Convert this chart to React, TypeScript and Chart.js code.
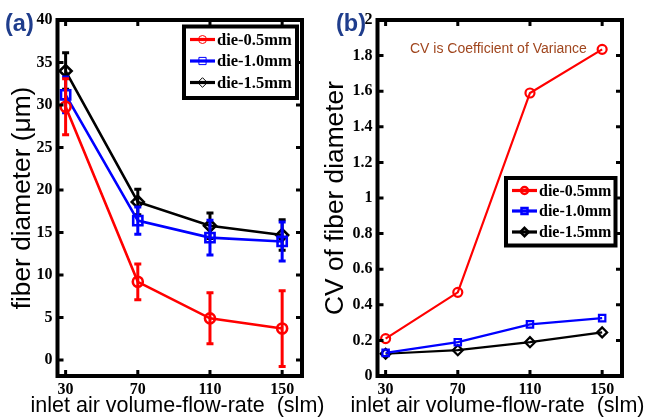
import { useEffect, useRef } from 'react';
import { Chart, registerables } from 'chart.js';

Chart.register(...registerables);

// Inlet air volume-flow-rate (slm)
const flowRates = [30, 70, 110, 150];
const dieLabels = ['die-0.5mm', 'die-1.0mm', 'die-1.5mm'];
const dieColors = ['#ff0000', '#0000ff', '#000000'];

// Mean fiber diameter (µm)
const diameter05 = [29.8, 9.2, 4.9, 3.7];
const diameter10 = [31.2, 16.4, 14.4, 13.95];
const diameter15 = [34.0, 18.6, 15.8, 14.7];

// Standard deviation of fiber diameter (µm)
const diameterSd05 = [3.3, 2.1, 3.0, 4.45];
const diameterSd10 = [2.1, 1.6, 2.05, 2.3];
const diameterSd15 = [2.15, 1.5, 1.5, 1.8];

// Coefficient of variance of fiber diameter
const cv05 = [0.21, 0.47, 1.59, 1.835];
const cv10 = [0.13, 0.19, 0.29, 0.325];
const cv15 = [0.125, 0.145, 0.19, 0.245];

// Axis ticks
const xTicks = [30, 70, 110, 150];
const diameterTicks = [0, 5, 10, 15, 20, 25, 30, 35, 40];
const cvTicks = [0, 0.2, 0.4, 0.6, 0.8, 1, 1.2, 1.4, 1.6, 1.8, 2];

const X_TITLE = 'inlet air volume-flow-rate  (slm)';

const H = 418;
const LEFT_W = 330;
const RIGHT_W = 327;
const SERIF = '"Liberation Serif", "Times New Roman", serif';
const SANS = '"Liberation Sans", Arial, sans-serif';

type Marker = 'circle' | 'rect' | 'rectRot';
const markers: Marker[] = ['circle', 'rect', 'rectRot'];

function drawMarker(ctx: CanvasRenderingContext2D, style: Marker, x: number, y: number, r: number) {
  ctx.beginPath();
  if (style === 'circle') {
    ctx.arc(x, y, r, 0, Math.PI * 2);
  } else if (style === 'rect') {
    ctx.rect(x - r, y - r, 2 * r, 2 * r);
  } else {
    ctx.moveTo(x, y - r);
    ctx.lineTo(x + r, y);
    ctx.lineTo(x, y + r);
    ctx.lineTo(x - r, y);
    ctx.closePath();
  }
  ctx.stroke();
}

const errorBarPlugin = (errs: number[][]) => ({
  id: 'errorBars',
  afterDatasetDraw(chart: any, args: any) {
    const e = errs[args.index];
    if (!e) return;
    const { ctx } = chart;
    const xs = chart.scales.x;
    const ys = chart.scales.y;
    const ds = chart.data.datasets[args.index];
    ctx.save();
    ctx.strokeStyle = ds.borderColor;
    ctx.lineWidth = 3;
    ds.data.forEach((p: { x: number; y: number }, i: number) => {
      const px = xs.getPixelForValue(p.x);
      const top = ys.getPixelForValue(p.y + e[i]);
      const bot = ys.getPixelForValue(p.y - e[i]);
      ctx.beginPath();
      ctx.moveTo(px, top);
      ctx.lineTo(px, bot);
      ctx.moveTo(px - 3.5, top);
      ctx.lineTo(px + 3.5, top);
      ctx.moveTo(px - 3.5, bot);
      ctx.lineTo(px + 3.5, bot);
      ctx.stroke();
    });
    ctx.restore();
  },
});

interface Decor {
  panel: string;
  panelX: number;
  legendBox: [number, number, number, number];
  legendRows: number[];
  legendMarkerR: number[];
  legendMarkerW: number;
  legendFont: number;
  note?: { text: string; x: number; y: number };
}

const decorPlugin = (d: Decor) => ({
  id: 'decor',
  afterDraw(chart: any) {
    const { ctx, chartArea: a, scales } = chart;
    ctx.save();
    // axes box
    ctx.strokeStyle = '#000';
    ctx.lineWidth = 4;
    ctx.strokeRect(a.left, a.top, a.right - a.left, a.bottom - a.top);
    // inward tick marks on all four sides
    ctx.lineWidth = 3;
    ctx.beginPath();
    scales.y.ticks.forEach((t: any) => {
      const y = scales.y.getPixelForValue(t.value);
      ctx.moveTo(a.left, y);
      ctx.lineTo(a.left + 6, y);
      ctx.moveTo(a.right - 6, y);
      ctx.lineTo(a.right, y);
    });
    scales.x.ticks.forEach((t: any) => {
      const x = scales.x.getPixelForValue(t.value);
      ctx.moveTo(x, a.bottom);
      ctx.lineTo(x, a.bottom - 6);
      ctx.moveTo(x, a.top);
      ctx.lineTo(x, a.top + 6);
    });
    ctx.stroke();

    // x-axis title, allowed to run wider than the plot area
    ctx.fillStyle = '#000';
    ctx.font = `21.5px ${SANS}`;
    ctx.textAlign = 'center';
    ctx.textBaseline = 'middle';
    ctx.fillText(X_TITLE, 177.5, 406.5);

    // panel letter
    ctx.textAlign = 'left';
    ctx.fillStyle = '#1f3d8c';
    ctx.font = `bold 23.5px ${SANS}`;
    ctx.fillText(d.panel, d.panelX, 25);

    if (d.note) {
      ctx.fillStyle = '#a0461e';
      ctx.font = `14px ${SANS}`;
      ctx.fillText(d.note.text, d.note.x, d.note.y);
    }

    // legend
    const [lx0, ly0, lx1, ly1] = d.legendBox;
    ctx.fillStyle = '#fff';
    ctx.fillRect(lx0, ly0, lx1 - lx0, ly1 - ly0);
    ctx.lineWidth = 4;
    ctx.strokeStyle = '#000';
    ctx.strokeRect(lx0, ly0, lx1 - lx0, ly1 - ly0);
    ctx.font = `bold ${d.legendFont}px ${SERIF}`;
    d.legendRows.forEach((ry, i) => {
      ctx.strokeStyle = dieColors[i];
      ctx.lineWidth = 3.2;
      ctx.beginPath();
      ctx.moveTo(lx0 + 6, ry);
      ctx.lineTo(lx0 + 31, ry);
      ctx.stroke();
      ctx.lineWidth = d.legendMarkerW;
      drawMarker(ctx, markers[i], lx0 + 18.5, ry, d.legendMarkerR[i]);
      ctx.fillStyle = '#000';
      ctx.fillText(dieLabels[i], lx0 + 33, ry + 1);
    });
    ctx.restore();
  },
});

function buildChart(
  canvas: HTMLCanvasElement,
  width: number,
  series: number[][],
  yMin: number,
  yMax: number,
  yTicks: number[],
  yTitle: string,
  yTitlePad: number,
  lineW: number,
  radii: number[],
  plugins: any[],
  fmt: (v: number) => string,
) {
  return new Chart(canvas, {
    type: 'line',
    data: {
      datasets: series.map((vals, i) => ({
        label: dieLabels[i],
        data: flowRates.map((x, j) => ({ x, y: vals[j] })),
        borderColor: dieColors[i],
        backgroundColor: 'rgba(0,0,0,0)',
        borderWidth: lineW,
        pointStyle: markers[i],
        pointRadius: radii[i],
        pointBorderWidth: lineW,
        pointBorderColor: dieColors[i],
        pointBackgroundColor: 'rgba(0,0,0,0)',
        tension: 0,
        fill: false,
      })),
    },
    options: {
      responsive: false,
      maintainAspectRatio: false,
      animation: false,
      events: [],
      layout: { padding: { top: 20, right: width - 302, left: 0, bottom: 0 } },
      plugins: { legend: { display: false }, tooltip: { enabled: false } },
      scales: {
        x: {
          type: 'linear',
          min: 25.5,
          max: 161,
          afterFit: (s: any) => {
            s.height = H - 376;
          },
          afterBuildTicks: (s: any) => {
            s.ticks = xTicks.map((v) => ({ value: v }));
          },
          grid: { display: false, drawTicks: false },
          border: { display: false },
          ticks: {
            color: '#000',
            font: { family: SERIF, size: 16, weight: 'bold' },
            padding: 4,
            maxRotation: 0,
            autoSkip: false,
            callback: (v: any) => String(v),
          },
          title: { display: false },
        },
        y: {
          type: 'linear',
          min: yMin,
          max: yMax,
          afterFit: (s: any) => {
            s.width = 57.5;
          },
          afterBuildTicks: (s: any) => {
            s.ticks = yTicks.map((v) => ({ value: v }));
          },
          grid: { display: false, drawTicks: false },
          border: { display: false },
          ticks: {
            color: '#000',
            font: { family: SERIF, size: 16, weight: 'bold' },
            padding: 5,
            autoSkip: false,
            callback: (v: any) => fmt(Number(v)),
          },
          title: {
            display: true,
            text: yTitle,
            color: '#000',
            font: { family: SANS, size: 26.3, lineHeight: 1 },
            padding: { top: yTitlePad, bottom: 0 },
          },
        },
      },
    } as any,
    plugins,
  });
}

export default function App() {
  const leftRef = useRef<HTMLCanvasElement>(null);
  const rightRef = useRef<HTMLCanvasElement>(null);

  useEffect(() => {
    const left = buildChart(
      leftRef.current!,
      LEFT_W,
      [diameter05, diameter10, diameter15],
      -1.88,
      40,
      diameterTicks,
      'fiber diameter (\u03bcm)',
      9.5,
      2.6,
      [5, 6.5, 6],
      [
        errorBarPlugin([diameterSd05, diameterSd10, diameterSd15]),
        decorPlugin({
          panel: '(a)',
          panelX: 5,
          legendBox: [184, 26.5, 297, 98],
          legendRows: [39.5, 61, 82.5],
          legendMarkerR: [4, 3.6, 4.8],
          legendMarkerW: 1,
          legendFont: 16.5,
        }),
      ],
      (v) => String(v),
    );
    const right = buildChart(
      rightRef.current!,
      RIGHT_W,
      [cv05, cv10, cv15],
      0,
      2,
      cvTicks,
      'CV of fiber diameter',
      3,
      2.2,
      [4.5, 4.5, 5],
      [
        decorPlugin({
          panel: '(b)',
          panelX: 16,
          legendBox: [186, 178, 295.5, 245.5],
          legendRows: [190.5, 211, 232],
          legendMarkerR: [3.5, 3, 4.2],
          legendMarkerW: 2.5,
          legendFont: 16,
          note: { text: 'CV is Coefficient of Variance', x: 90, y: 49 },
        }),
      ],
      (v) => String(Math.round(v * 10) / 10),
    );
    return () => {
      left.destroy();
      right.destroy();
    };
  }, []);

  return (
    <div style={{ position: 'absolute', left: 0, top: 0, width: 647, height: H, background: '#fff' }}>
      <canvas
        ref={leftRef}
        width={LEFT_W}
        height={H}
        style={{ position: 'absolute', left: 0, top: 0, width: LEFT_W, height: H }}
      />
      <canvas
        ref={rightRef}
        width={RIGHT_W}
        height={H}
        style={{ position: 'absolute', left: 320, top: 0, width: RIGHT_W, height: H }}
      />
    </div>
  );
}
